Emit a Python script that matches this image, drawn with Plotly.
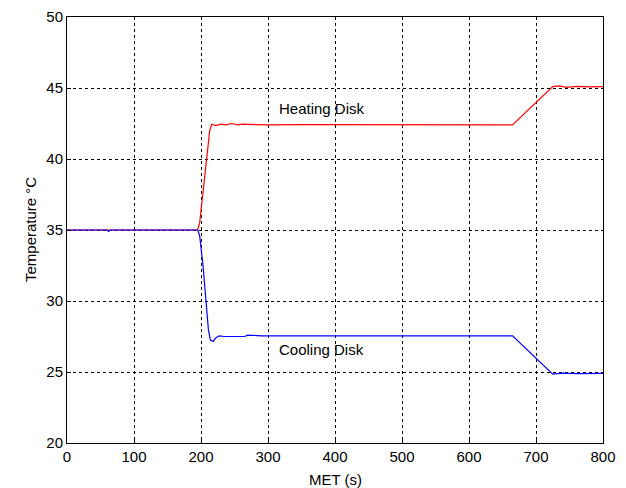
import plotly.graph_objects as go

heat_t = [0, 60, 62, 65, 195, 198, 203, 208, 213, 216, 222, 230, 238, 245, 255, 262, 300, 350, 500, 665, 725, 735, 745, 760, 780, 800]
heat_v = [35.0, 35.0, 34.95, 35.0, 35.0, 35.5, 37.6, 40.0, 42.0, 42.45, 42.35, 42.45, 42.4, 42.5, 42.4, 42.45, 42.4, 42.42, 42.4, 42.4, 45.1, 45.15, 45.05, 45.12, 45.08, 45.1]

cool_t = [0, 60, 62, 65, 195, 198, 203, 207, 211, 214, 218, 222, 227, 235, 265, 270, 290, 665, 725, 740, 760, 800]
cool_v = [35.0, 35.0, 34.9, 35.0, 35.0, 34.6, 32.5, 30.0, 28.0, 27.25, 27.15, 27.4, 27.55, 27.5, 27.5, 27.6, 27.55, 27.55, 24.85, 24.92, 24.88, 24.9]

label_text = ["Heating Disk", "Cooling Disk"]
label_x = [380, 380]
label_y = [43.55, 26.6]

x_ticks = [0, 100, 200, 300, 400, 500, 600, 700, 800]
y_ticks = [20, 25, 30, 35, 40, 45, 50]

x_title = "MET (s)"
y_title = "Temperature °C"

FONT = "Liberation Sans, Arial"
FS = 15

fig = go.Figure()
fig.add_trace(go.Scatter(x=heat_t, y=heat_v, mode="lines",
                         line=dict(color="#ff0000", width=1.2), showlegend=False))
fig.add_trace(go.Scatter(x=cool_t, y=cool_v, mode="lines",
                         line=dict(color="#0000ff", width=1.2), showlegend=False))

for t, xx, yy in zip(label_text, label_x, label_y):
    fig.add_annotation(x=xx, y=yy, text=t, showarrow=False,
                       font=dict(family=FONT, size=FS, color="black"))

fig.add_annotation(x=0.5, y=0, xref="paper", yref="paper", yanchor="middle",
                   yshift=-36, text=x_title, showarrow=False,
                   font=dict(family=FONT, size=FS, color="black"))
fig.add_annotation(x=0, y=0.5, xref="paper", yref="paper", xanchor="center",
                   xshift=-37, textangle=-90, text=y_title, showarrow=False,
                   font=dict(family=FONT, size=FS, color="black"))

axis_common = dict(showline=True, linecolor="black", linewidth=1, mirror=True,
                   showgrid=True, gridcolor="black", griddash="3px,3px", gridwidth=1,
                   zeroline=False, ticks="inside", ticklen=4, tickcolor="black",
                   automargin=False,
                   tickfont=dict(family=FONT, size=FS, color="black"))

fig.update_xaxes(range=[0, 800], tickvals=x_ticks, **axis_common)
fig.update_yaxes(range=[20, 50], tickvals=y_ticks, **axis_common)

fig.update_layout(width=626, height=488, margin=dict(l=67, r=23, t=17, b=45),
                  plot_bgcolor="white", paper_bgcolor="white")

fig.write_html("out.html")
